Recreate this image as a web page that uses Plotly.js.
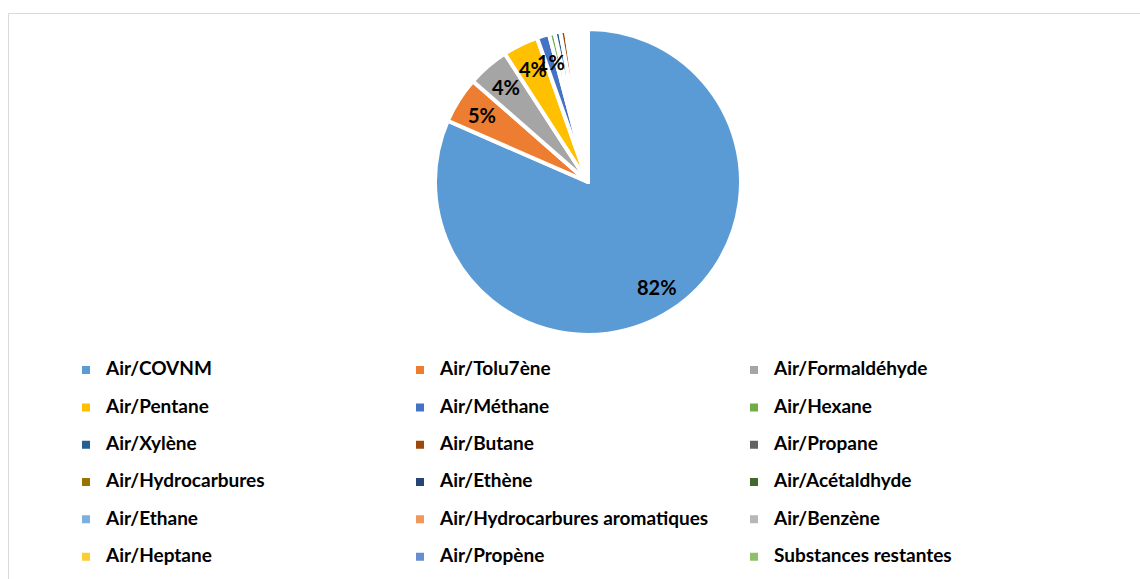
<!DOCTYPE html>
<html><head><meta charset="utf-8">
<script src="https://cdn.plot.ly/plotly-3.0.1.min.js"></script>
<style>html,body{margin:0;padding:0;background:#fff}#chart{width:1140px;height:579px}</style>
</head><body><div id="chart"></div>
<script>
const categories = ["Air/COVNM","Air/Tolu7ène","Air/Formaldéhyde","Air/Pentane","Air/Méthane","Air/Hexane",
  "Air/Xylène","Air/Butane","Air/Propane","Air/Hydrocarbures","Air/Ethène","Air/Acétaldhyde",
  "Air/Ethane","Air/Hydrocarbures aromatiques","Air/Benzène","Air/Heptane","Air/Propène","Substances restantes"];
const shares = [81.6, 4.9, 4.4, 3.75, 1.3, 0.6, 0.6, 0.6, 0.24, 0.23, 0.23, 0.22, 0.23, 0.24, 0.22, 0.23, 0.23, 0.24];
const colors = ["#5B9BD5","#ED7D31","#A5A5A5","#FFC000","#4472C4","#70AD47","#255E91","#9E480E","#636363",
  "#997300","#264478","#43682B","#7CAFDD","#F1975A","#B7B7B7","#FFCD33","#698ED0","#8CC168"];

const W = 1140, H = 579;
const CX = 588, CY = 182, R = 153;
const domain = {x:[(CX-R)/W,(CX+R)/W], y:[1-(CY+R)/H, 1-(CY-R)/H]};
const total = shares.reduce((a,b)=>a+b,0);
let cum = 0;
const annotations = [];
shares.forEach((v,i)=>{
  const f = v/total, mid = cum + f/2; cum += f;
  if (f*100 < 1) return;          // only labels of at least 1 %
  const th = 2*Math.PI*mid;
  const d = 0.82*R;
  const px = CX + d*Math.sin(th), py = CY - d*Math.cos(th);
  annotations.push({xref:'paper', yref:'paper', x:px/W, y:1-py/H, text:Math.round(f*100)+'%', showarrow:false,
    xanchor:'center', yanchor:'middle', font:{family:'Lato', size:20, weight:'bold', color:'#000'}});
});
const legendLabels = categories.map(c => '<span style="font-size:19px">'+c+'</span><br>');

const data = [{
  type:'pie', labels: legendLabels, values: shares, sort:false, direction:'clockwise', rotation:0,
  domain: domain, textinfo:'none', hoverinfo:'skip',
  marker:{colors: colors, line:{color:'#ffffff', width:4}}
}];
const layout = {
  width:W, height:H, margin:{l:0,r:0,t:0,b:0,autoexpand:false}, paper_bgcolor:'#fff', plot_bgcolor:'#fff',
  showlegend:true,
  legend:{orientation:'h', x:66/W, xanchor:'left', y:1-355/H, yanchor:'top', entrywidth:289, entrywidthmode:'pixels',
    font:{family:'Lato', size:13.2, weight:'bold', color:'#000'}, valign:'top', maxheight:1, traceorder:'normal',
    bgcolor:'rgba(0,0,0,0)'},
  annotations: annotations,
  shapes:[{type:'rect', xref:'paper', yref:'paper', x0:8.5/W, x1:1.1, y0:-0.1, y1:1-13.5/H,
    line:{color:'#D9D9D9', width:1}, fillcolor:'rgba(0,0,0,0)', layer:'below'}]
};
Plotly.newPlot('chart', data, layout, {displayModeBar:false, staticPlot:true});
</script></body></html>
